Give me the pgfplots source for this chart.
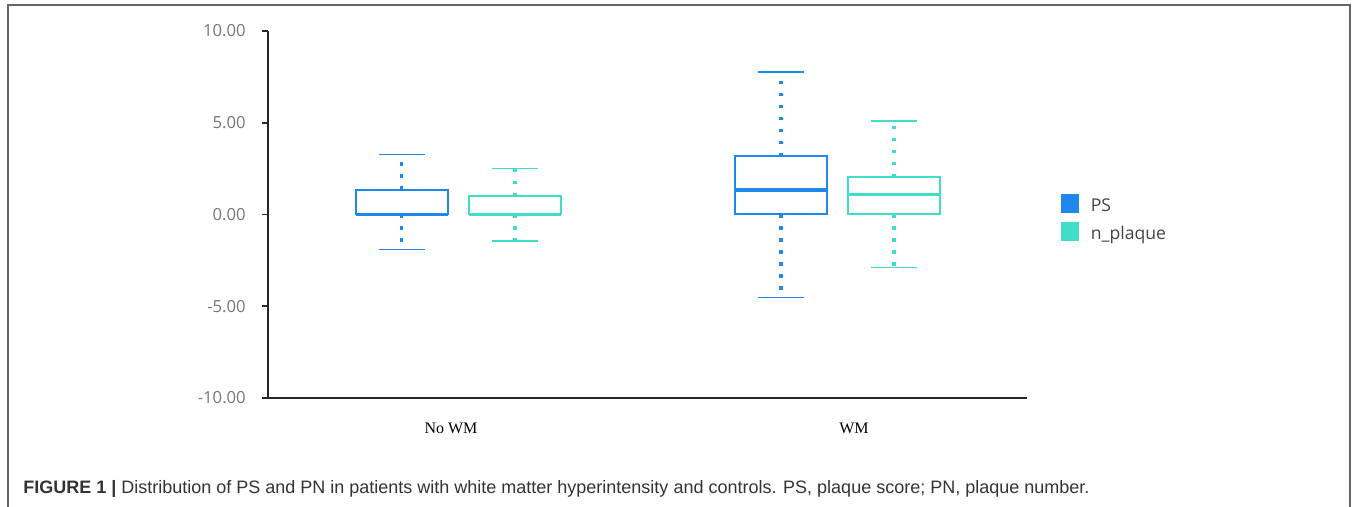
\documentclass[border=0pt]{standalone}
\usepackage{pgfplots}
\pgfplotsset{compat=1.18}
\usepgfplotslibrary{statistics}
\usepackage{fontspec}
\setmainfont{Open Sans}
\newfontfamily\capfont{Liberation Sans}
\newfontfamily\catfont{Liberation Serif}
\definecolor{psblue}{HTML}{1E88EB}
\definecolor{npturq}{HTML}{40DDC8}
\definecolor{ticklab}{HTML}{767676}
\definecolor{captxt}{HTML}{333333}
\definecolor{legtxt}{HTML}{444444}
\definecolor{framec}{HTML}{666666}

\pgfplotsset{
  mybox/.style={
    boxplot/draw direction=y,
    boxplot/box extend=92,
    boxplot/whisker extend=46,
    boxplot/every box/.style={line width=1.5pt},
    boxplot/every median/.style={line width=2.4pt},
    boxplot/draw/lower whisker/.code={%
      \draw[line width=2.3pt, dash pattern=on 2.3pt off 6.7pt]
        (boxplot cs:\pgfplotsboxplotvalue{lower quartile}) -- (boxplot cs:\pgfplotsboxplotvalue{lower whisker});
      \draw[line width=1.2pt]
        (boxplot whisker cs:\pgfplotsboxplotvalue{lower whisker},0) -- (boxplot whisker cs:\pgfplotsboxplotvalue{lower whisker},1);
    },
    boxplot/draw/upper whisker/.code={%
      \draw[line width=2.3pt, dash pattern=on 2.3pt off 6.7pt]
        (boxplot cs:\pgfplotsboxplotvalue{upper quartile}) -- (boxplot cs:\pgfplotsboxplotvalue{upper whisker});
      \draw[line width=1.2pt]
        (boxplot whisker cs:\pgfplotsboxplotvalue{upper whisker},0) -- (boxplot whisker cs:\pgfplotsboxplotvalue{upper whisker},1);
    },
  }
}

\begin{document}
\begin{tikzpicture}[x=0.75pt,y=0.75pt]
\useasboundingbox (0,0) rectangle (1357,507);
\begin{axis}[
  at={(201pt,81.75pt)}, anchor=south west,
  scale only axis, width=569.25pt, height=275.25pt,
  xmin=268, xmax=1027, ymin=-10, ymax=10,
  axis x line*=bottom, axis y line*=left,
  axis line style={line width=1.4pt, black!85, -},
  ytick={-10,-5,0,5,10},
  scaled y ticks=false,
  /pgf/number format/assume math mode=true,
  yticklabel style={font=\fontsize{12.5}{14}\selectfont, text=ticklab,
    /pgf/number format/fixed, /pgf/number format/fixed zerofill,
    /pgf/number format/precision=2, inner sep=0pt, xshift=-12pt},
  tick align=outside,
  major tick length=4.5pt,
  ytick style={line width=1.4pt, black!85},
  xtick={451,854}, xticklabels={No WM, WM},
  xticklabel style={font=\catfont\fontsize{12}{14}\selectfont, text=black, anchor=base, inner sep=0pt, yshift=-22pt},
  xtick style={draw=none},
  clip=false,
  legend style={at={(1.0444,0.5545)}, anchor=north west, draw=none, fill=none,
    inner sep=0pt, outer sep=0pt, row sep=4.8pt, column sep=9pt,
    font=\fontsize{13.2}{15}\selectfont, text=legtxt,
    nodes={inner sep=0pt, text height=9.4pt, text depth=3.8pt}},
  legend cell align=left,
]
\addplot[psblue, forget plot, mybox, boxplot prepared={draw position=401.5,
  lower whisker=-1.91, lower quartile=0, median=0, upper quartile=1.36, upper whisker=3.27}] coordinates {};
\addplot[npturq, forget plot, mybox, boxplot prepared={draw position=515,
  lower whisker=-1.45, lower quartile=0, median=0, upper quartile=1.0, upper whisker=2.5}] coordinates {};
\addplot[psblue, forget plot, mybox, boxplot prepared={draw position=781,
  lower whisker=-4.52, lower quartile=0, median=1.33, upper quartile=3.18, upper whisker=7.78}] coordinates {};
\addplot[npturq, forget plot, mybox, boxplot prepared={draw position=894,
  lower whisker=-2.89, lower quartile=0, median=1.09, upper quartile=2.04, upper whisker=5.09}] coordinates {};
\addlegendimage{legend image code/.code={\fill[psblue] (0pt,-3.8pt) rectangle (13.2pt,9.4pt);}}
\addlegendentry{PS}
\addlegendimage{legend image code/.code={\fill[npturq] (0pt,-3.8pt) rectangle (13.2pt,9.4pt);}}
\addlegendentry{n\_plaque}
\end{axis}
\draw[framec, line width=0.9pt] (8,-2) -- (8,502) -- (1350,502) -- (1350,-2);
\node[anchor=base west, inner sep=0pt, text=captxt, font=\capfont\fontsize{13.5}{16}\selectfont] at (23,13)
  {\textbf{FIGURE 1 |} Distribution of PS and PN in patients with white matter hyperintensity and controls. PS, plaque score; PN, plaque number.};
\end{tikzpicture}
\end{document}
